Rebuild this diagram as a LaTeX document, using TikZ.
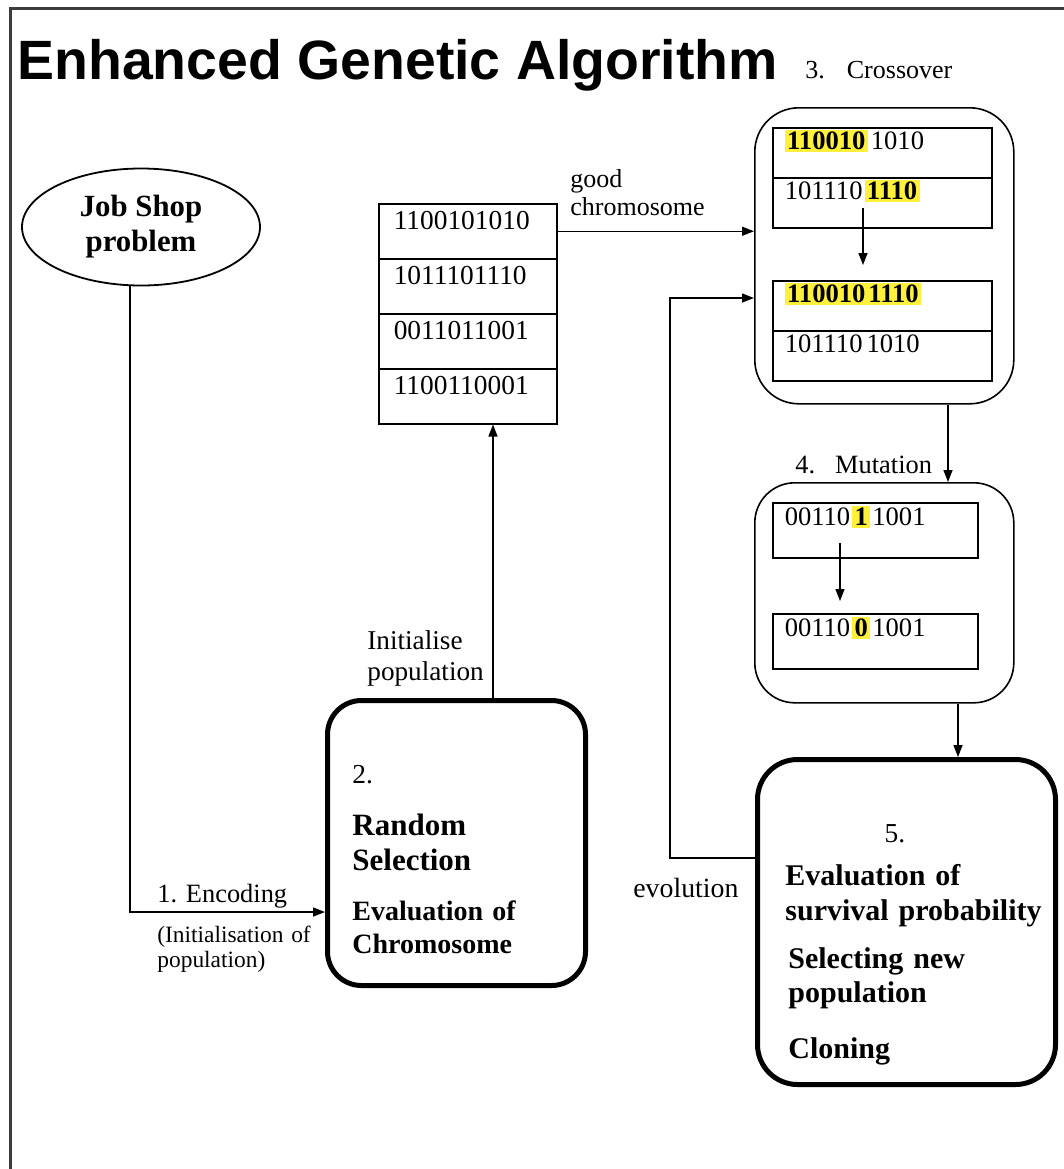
\documentclass[tikz,border=0pt]{standalone}
\usepackage{fontspec}
\setmainfont{Liberation Serif}
\newfontfamily\titlefont{Liberation Sans}
\usetikzlibrary{arrows.meta, shapes.geometric}

\definecolor{hlyellow}{RGB}{255,240,60}
\definecolor{framegray}{RGB}{60,60,60}
\newcommand{\hl}[1]{{\setlength{\fboxsep}{1.2pt}\colorbox{hlyellow}{\textbf{#1}}}}
\newcommand{\fsz}[2]{\fontsize{#1}{#2}\selectfont}

\tikzset{
    arr/.style={line width=0.7pt, -{Triangle[length=6pt, width=4.5pt]}},
    lbl/.style={inner sep=0pt, anchor=base west},
    thickbox/.style={draw, line width=2.5pt, anchor=north west, inner sep=0pt},
    thinbox/.style={draw, line width=0.8pt, anchor=north west, inner sep=0pt},
    popbox/.style={draw, line width=0.75pt, anchor=north west, inner xsep=7.5pt, inner ysep=0pt,
        text width=74pt, text height=13pt, text depth=14.5pt, align=left},
    xrow/.style={draw, line width=0.75pt, anchor=north west, inner xsep=6pt, inner ysep=0pt,
        text width=97.5pt, text height=11pt, text depth=14pt, align=left, font=\fsz{13.3}{15}},
    mrow/.style={draw, line width=0.75pt, anchor=north west, inner xsep=6pt, inner ysep=0pt,
        text width=90.5pt, text height=11.5pt, text depth=16pt, align=left, font=\fsz{13.3}{15}}
}

\begin{document}
\begin{tikzpicture}[x=0.5pt, y=-0.5pt, font=\fsz{13.7}{16}]
    \useasboundingbox (0,0) rectangle (1064,1169);
    \draw[framegray, line width=1.5pt] (10,1169) -- (10,8) -- (1064,8);

    \node[lbl] (title) at (17,79) {\titlefont\bfseries\fsz{27.7}{30}Enhanced Genetic Algorithm};

    \node[ellipse, draw, line width=0.9pt, minimum width=119pt, minimum height=58.5pt, inner sep=0pt,
        align=center, font=\bfseries\fsz{15.4}{17.5}] (job) at (141,227) {Job Shop\\problem};

    \node[popbox] (p1) at (378,203) {1100101010};
    \node[popbox] (p2) at (378,258) {1011101110};
    \node[popbox] (p3) at (378,313) {0011011001};
    \node[popbox] (p4) at (378,368) {1100110001};

    \node[thickbox, minimum width=129pt, minimum height=142.5pt, rounded corners=17pt] (b2) at (325,698) {};
    \node[lbl] (t2) at (352,783) {2.};
    \node[lbl, text width=110pt, align=left, font=\bfseries\fsz{15.5}{17.5}] (rs) at (352,835) {Random\\Selection};
    \node[lbl, text width=110pt, align=left, font=\bfseries\fsz{14}{16.5}] (ec) at (352,920) {Evaluation of\\Chromosome};

    \node[thinbox, minimum width=129.5pt, minimum height=148pt, rounded corners=22pt] (cx) at (754,107) {};
    \node[xrow] (a1) at (772,127) {\hl{110010}\hspace{1.5pt}1010};
    \node[xrow] (a2) at (772,177) {101110\hspace{1pt}\hl{1110}};
    \node[xrow] (c1) at (772,280) {\hl{110010\hspace{1.5pt}1110}};
    \node[xrow] (c2) at (772,330) {101110\hspace{2pt}1010};
    \node[lbl, font=\fsz{13}{15}] (l3) at (805,78) {3.\hspace{11pt}Crossover};

    \node[thinbox, minimum width=129.5pt, minimum height=110pt, rounded corners=20pt] (mu) at (754,482) {};
    \node[mrow] (m1) at (772,502) {00110\hspace{1pt}\hl{1}\hspace{1pt}1001};
    \node[mrow] (m2) at (772,613) {00110\hspace{1pt}\hl{0}\hspace{1pt}1001};
    \node[lbl, font=\fsz{13.2}{15}] (l4) at (795,473) {4.\hspace{10pt}Mutation};

    \node[thickbox, minimum width=149pt, minimum height=162.5pt, rounded corners=20pt] (b5) at (755,757) {};
    \node[lbl, anchor=base] (t5) at (895,842) {5.};
    \node[lbl, text width=140pt, align=left, font=\bfseries\fsz{15}{17.5}] (es) at (785,885) {Evaluation of\\survival probability};
    \node[lbl, text width=140pt, align=left, font=\bfseries\fsz{15}{17}] (sn) at (788,968) {Selecting new\\population};
    \node[lbl, font=\bfseries\fsz{15}{17}] (cl) at (788,1058) {Cloning};

    \node[lbl, text width=80pt, align=left, font=\fsz{13}{14}] (gc) at (570,187) {good\\chromosome};
    \node[lbl, text width=70pt, align=left, font=\fsz{13.6}{15.5}] (ip) at (367,649) {Initialise\\population};
    \node[lbl, font=\fsz{13.2}{15}] (en) at (157,902) {1. Encoding};
    \node[lbl, text width=90pt, align=left, font=\fsz{11.7}{12.5}] (ia) at (157,942) {(Initialisation of\\population)};
    \node[lbl, font=\fsz{13.9}{16}] (evo) at (633,897) {evolution};

    \coordinate (enc) at (130,912);
    \coordinate (ini) at (493,698);
    \coordinate (ev1) at (670,858);
    \coordinate (ev2) at (670,298);
    \coordinate (xm) at (948,0);
    \coordinate (xq) at (958,0);
    \coordinate (xa) at (863,208);
    \coordinate (xb) at (863,265);
    \coordinate (ma) at (840,543);
    \coordinate (mb) at (840,601);

    \draw[arr] (job.south -| enc) -- (enc) -- (enc -| b2.west);
    \draw[arr] (b2.north -| ini) -- (ini |- p4.south);
    \draw[arr] (p1.east) -- (p1.east -| cx.west);
    \draw[arr] (ev1 -| b5.west) -- (ev1) -- (ev2) -- (ev2 -| cx.west);
    \draw[arr] (cx.south -| xm) -- (mu.north -| xm);
    \draw[arr] (mu.south -| xq) -- (b5.north -| xq);
    \draw[arr] (xa) -- (xb);
    \draw[arr] (ma) -- (mb);
\end{tikzpicture}
\end{document}
